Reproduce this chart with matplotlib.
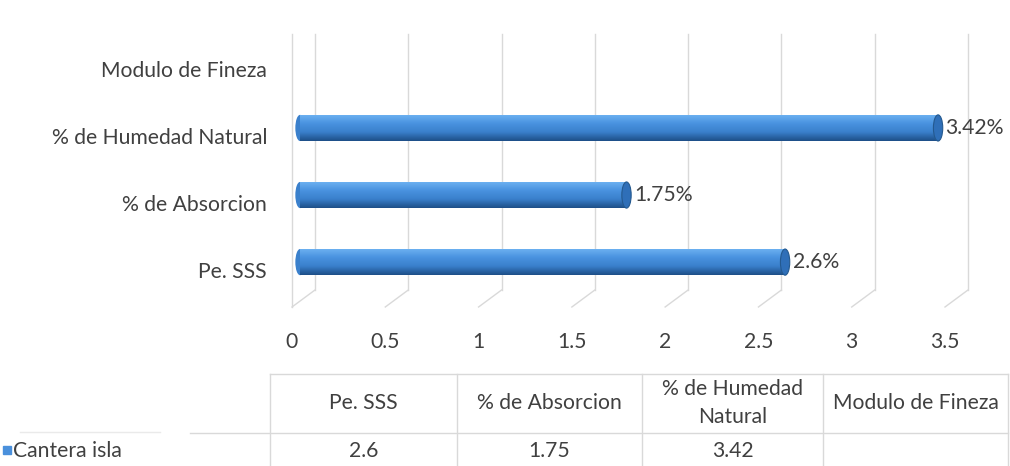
import numpy as np
import matplotlib
matplotlib.use("Agg")
import matplotlib.pyplot as plt
from matplotlib.transforms import ScaledTranslation
from matplotlib.patches import Ellipse
from matplotlib.colors import LinearSegmentedColormap

# datos
categorias = ["Pe. SSS", "% de Absorcion", "% de Humedad Natural", "Modulo de Fineza"]
valores = [2.6, 1.75, 3.42, None]
etiquetas = ["2.6%", "1.75%", "3.42%", ""]
cabecera_tabla = ["Pe. SSS", "% de Absorcion", "% de Humedad\nNatural", "Modulo de Fineza"]
fila_tabla = ["2.6", "1.75", "3.42", ""]
serie = "Cantera isla"
ticks_x = [0, 0.5, 1, 1.5, 2, 2.5, 3, 3.5]

W, H = 1010, 466
DPI = 100
FS = 15.2
plt.rcParams['font.family'] = ['Lato', 'DejaVu Sans']
txt = '#404040'
grid_c = '#d9d9d9'

fig = plt.figure(figsize=(W / DPI, H / DPI), dpi=DPI)


def px(x0, y0, x1, y1):
    # caja en pixeles (desde arriba) -> coords de figura
    return [x0 / W, 1 - y1 / H, (x1 - x0) / W, (y1 - y0) / H]


ax = fig.add_axes(px(292, 34, 945, 307))
ax.set_xlim(0, 3.5)
ax.set_ylim(-0.55, 3.52)
for s in ax.spines.values():
    s.set_visible(False)

# desplazamiento 3D (profundidad)
dx, dy = 23 / DPI, 17 / DPI
back = ax.transData + ScaledTranslation(dx, dy, fig.dpi_scale_trans)
mid = ax.transData + ScaledTranslation(8 / DPI, 8 / DPI, fig.dpi_scale_trans)

# pared y suelo
ybot, ytop = -0.55, 3.52
for t in ticks_x:
    ax.plot([t, t], [ybot, ytop - 0.25], color=grid_c, lw=1, transform=back, clip_on=False)
    ax.plot([t, t + dx * DPI / 186.6], [ybot, ybot + dy * DPI / 67], color=grid_c, lw=1, clip_on=False)
ax.plot([0, 0], [ybot, ytop - 0.25 + dy * DPI / 67], color=grid_c, lw=1, clip_on=False)

# barras
ypos = np.arange(len(categorias))
vals = [v if v is not None else 0 for v in valores]
bars = ax.barh(ypos, vals, height=0.39, color='#3f87d6', transform=mid, zorder=3)
cmap = LinearSegmentedColormap.from_list('cil', ['#6fb3f2', '#4a93e0', '#3a80cc', '#1d4f88'])
grad = np.linspace(0, 1, 64).reshape(-1, 1)
for b, v in zip(bars, valores):
    if not v:
        continue
    y0 = b.get_y()
    im = ax.imshow(grad, aspect='auto', cmap=cmap, origin='upper',
                   extent=[0, v, y0, y0 + b.get_height()], transform=mid, zorder=4)
    im.set_clip_path(b)
    cap = Ellipse((v, y0 + b.get_height() / 2), 0.05, b.get_height(),
                  facecolor='#2f6fb8', edgecolor='#24598f', lw=0.8, transform=mid, zorder=5)
    ax.add_patch(cap)
    left = Ellipse((0, y0 + b.get_height() / 2), 0.05, b.get_height(),
                   facecolor='#3a80cc', edgecolor='none', transform=mid, zorder=2)
    ax.add_patch(left)

for y, v, e in zip(ypos, valores, etiquetas):
    if v:
        ax.text(v + 0.04, y, e, va='center', ha='left', fontsize=FS, color=txt,
                transform=mid, zorder=6)

ax.set_xticks(ticks_x)
ax.set_xticklabels([f"{t:g}" for t in ticks_x])
ax.set_yticks(ypos)
ax.set_yticklabels(categorias)
ax.tick_params(axis='x', length=0, pad=18, labelsize=FS, labelcolor=txt)
ax.tick_params(axis='y', length=0, pad=18, labelsize=FS, labelcolor=txt)
ax.set_ylim(ybot, ytop)

# tabla de datos
tab = fig.add_axes([0, 0, 1, 1])
tab.set_xlim(0, W)
tab.set_ylim(H, 0)
tab.axis('off')
col_x = [270, 457, 642, 823, 1008]
tab.plot([270, 1008], [374, 374], color=grid_c, lw=1)
tab.plot([190, 1008], [433, 433], color=grid_c, lw=1)
tab.plot([20, 160], [432, 432], color='#eaeaea', lw=1)
for x in col_x:
    tab.plot([x, x], [374, 466], color=grid_c, lw=1)
for i in range(4):
    xc = (col_x[i] + col_x[i + 1]) / 2
    tab.text(xc, 403, cabecera_tabla[i], ha='center', va='center', fontsize=FS,
             color=txt, linespacing=1.45)
    tab.text(xc, 451, fila_tabla[i], ha='center', va='center', fontsize=FS, color=txt)
tab.add_patch(plt.Rectangle((3, 446), 8, 8, color='#4a90dc'))
tab.text(13, 451, serie, ha='left', va='center', fontsize=FS, color=txt)

fig.savefig('out.png', dpi=DPI)
